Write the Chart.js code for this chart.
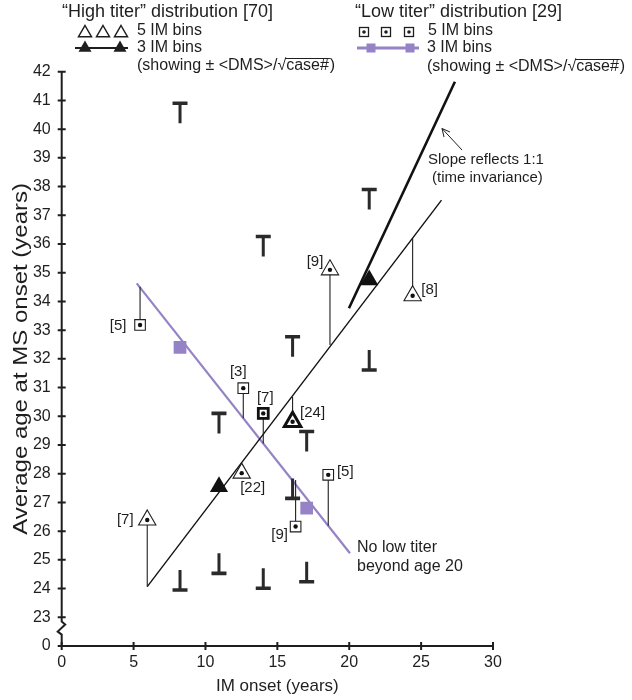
<!DOCTYPE html>
<html>
<head>
<meta charset="utf-8">
<script src="https://cdn.jsdelivr.net/npm/chart.js@4.4.1/dist/chart.umd.min.js"></script>
<style>
  html, body { margin: 0; padding: 0; background: #fff; }
  #wrap { width: 632px; height: 700px; }
</style>
</head>
<body>
<div id="wrap"><canvas id="c" width="632" height="700"></canvas></div>
<script>
// ---- data ----
// High titer, 5 IM bins (open triangles)
const hi5X = [5.95, 12.52, 16.06, 18.66, 24.41];
const hi5Y = [26.39, 28.02, 29.81, 35.10, 34.20];
const hi5N = ['[7]', '[22]', '[24]', '[9]', '[8]'];
const hi5Stem = [24.07, 28.30, 30.68, 32.48, 36.20]; // where the thin line is met

// High titer, 3 IM bins (filled triangles, middle one coincides with [24])
const hi3X = [10.94, 16.06, 21.39];
const hi3Y = [27.55, 29.81, 34.75];
const hi3Top = [30.10, 32.77, 37.90];
const hi3Bot = [24.53, 27.14, 31.61];

// Low titer, 5 IM bins (open squares)
const lo5X = [5.45, 12.63, 14.02, 16.27, 18.54];
const lo5Y = [33.18, 30.98, 30.10, 26.16, 27.96];
const lo5N = ['[5]', '[3]', '[7]', '[9]', '[5]'];
const lo5Stem = [34.51, 29.93, 29.05, 27.78, 26.19];

// Low titer, 3 IM bins (purple squares, middle one coincides with [7])
const lo3X = [8.23, 14.02, 17.04];
const lo3Y = [32.40, 30.10, 26.80];
const lo3Top = [40.90, 36.26, 29.47];
const lo3Bot = [23.95, 24.01, 24.24];

// fitted lines
const hiFitX = [5.95, 26.42],  hiFitY = [24.07, 37.53];
const slopeX = [19.98, 27.35], slopeY = [33.76, 41.65];
const loFitX = [5.22, 20.05],  loFitY = [34.63, 25.23];

// axes
const xTicks = [0, 5, 10, 15, 20, 25, 30];
const yTicks = [22, 23, 24, 25, 26, 27, 28, 29, 30, 31, 32, 33, 34, 35, 36, 37, 38, 39, 40, 41, 42];
const yBreakValue = 22; // drawn as "0" under the axis break

// label offsets (px) from each marker
const hi5LabOff = [[-22, 0], [11, 15], [20, -9], [-15, -8], [17, -6]];
const lo5LabOff = [[-22, 1], [-5, -16], [2, -16], [-16, 8], [17, -3]];

const FONT = '"Liberation Sans", Arial, sans-serif';
const INK = '#1e1e1e';
const PURPLE = '#9583c6';

const pts = (xs, ys) => xs.map((x, i) => ({ x: x, y: ys[i] }));
function stems(xs, ys, ends) {
    const out = [];
    xs.forEach((x, i) => {
        out.push({ x: x, y: ys[i] }, { x: x, y: ends[i] }, { x: x, y: null });
    });
    return out;
}

// ---- plugin: axes with break, error-bar ends, labels, legend ----
function triangle(ctx, x, y, r, fill, stroke, lw) {
    ctx.beginPath();
    ctx.moveTo(x, y - r);
    ctx.lineTo(x + 0.866 * r, y + 0.5 * r);
    ctx.lineTo(x - 0.866 * r, y + 0.5 * r);
    ctx.closePath();
    if (fill) { ctx.fillStyle = fill; ctx.fill(); }
    if (stroke) { ctx.strokeStyle = stroke; ctx.lineWidth = lw; ctx.stroke(); }
}

const figPlugin = {
    id: 'fig',
    beforeDatasetsDraw(chart) {
        const ctx = chart.ctx, xs = chart.scales.x, ys = chart.scales.y;
        const x0 = xs.getPixelForValue(0), y0 = ys.getPixelForValue(yBreakValue);
        ctx.save();
        ctx.strokeStyle = INK;
        ctx.lineWidth = 2;
        // x axis
        ctx.beginPath();
        ctx.moveTo(x0, y0);
        ctx.lineTo(xs.getPixelForValue(30), y0);
        xTicks.forEach(v => {
            const p = xs.getPixelForValue(v);
            ctx.moveTo(p, y0 - 4);
            ctx.lineTo(p, y0 + 4);
        });
        ctx.stroke();
        // y axis with break
        const yb = ys.getPixelForValue(22.85);
        ctx.beginPath();
        ctx.moveTo(x0, ys.getPixelForValue(42));
        ctx.lineTo(x0, yb);
        ctx.lineTo(x0 + 3.5, yb + 3);
        ctx.lineTo(x0 - 4, yb + 10);
        ctx.lineTo(x0, yb + 13);
        ctx.lineTo(x0, y0);
        yTicks.forEach(v => {
            const p = ys.getPixelForValue(v);
            ctx.moveTo(x0 - 4, p);
            ctx.lineTo(x0 + 4, p);
        });
        ctx.stroke();
        ctx.restore();
    },
    afterDatasetsDraw(chart) {
        const ctx = chart.ctx, xs = chart.scales.x, ys = chart.scales.y;
        ctx.save();
        // error-bar ends of the 3-bin means
        ctx.strokeStyle = '#2a2a2a';
        const caps = (X, top, bot) => X.forEach((x, i) => {
            const px = xs.getPixelForValue(x);
            const pt = ys.getPixelForValue(top[i]), pb = ys.getPixelForValue(bot[i]);
            ctx.lineWidth = 3.6;
            ctx.beginPath();
            ctx.moveTo(px - 7.5, pt); ctx.lineTo(px + 7.5, pt);
            ctx.moveTo(px - 7.5, pb); ctx.lineTo(px + 7.5, pb);
            ctx.stroke();
            ctx.lineWidth = 3;
            ctx.beginPath();
            ctx.moveTo(px, pt); ctx.lineTo(px, pt + 20);
            ctx.moveTo(px, pb); ctx.lineTo(px, pb - 20);
            ctx.stroke();
        });
        caps(hi3X, hi3Top, hi3Bot);
        caps(lo3X, lo3Top, lo3Bot);

        // bin counts
        ctx.fillStyle = INK;
        ctx.font = '15px ' + FONT;
        ctx.textAlign = 'center';
        ctx.textBaseline = 'middle';
        hi5X.forEach((x, i) => ctx.fillText(hi5N[i],
            xs.getPixelForValue(x) + hi5LabOff[i][0], ys.getPixelForValue(hi5Y[i]) + hi5LabOff[i][1]));
        lo5X.forEach((x, i) => ctx.fillText(lo5N[i],
            xs.getPixelForValue(x) + lo5LabOff[i][0], ys.getPixelForValue(lo5Y[i]) + lo5LabOff[i][1]));

        // notes
        ctx.textAlign = 'left';
        ctx.font = '15px ' + FONT;
        ctx.fillText('Slope reflects 1:1', 428, 160);
        ctx.fillText('(time invariance)', 432, 178);
        ctx.font = '16px ' + FONT;
        ctx.fillText('No low titer', 357, 548);
        ctx.fillText('beyond age 20', 357, 567);
        // arrow to the 1:1 line
        ctx.strokeStyle = INK;
        ctx.lineWidth = 1;
        ctx.beginPath();
        ctx.moveTo(462, 150); ctx.lineTo(442, 128.5);
        ctx.moveTo(442, 128.5); ctx.lineTo(444, 137);
        ctx.moveTo(442, 128.5); ctx.lineTo(450, 132);
        ctx.stroke();
        ctx.restore();
    },
    afterDraw(chart) {
        const ctx = chart.ctx, area = chart.chartArea;
        ctx.save();
        ctx.fillStyle = INK;
        ctx.textBaseline = 'middle';

        // y axis title (a bit drawn out along its length, as in the figure)
        ctx.save();
        ctx.translate(21, (area.top + area.bottom) / 2);
        ctx.rotate(-Math.PI / 2);
        ctx.scale(1.2, 1);
        ctx.textAlign = 'center';
        ctx.font = '20px ' + FONT;
        ctx.fillText('Average age at MS onset (years)', 0, 0);
        ctx.restore();

        ctx.textAlign = 'left';
        const sqrtNote = (x, y) => {
            ctx.fillStyle = INK;
            ctx.font = '16px ' + FONT;
            const a = '(showing \u00b1 <DMS>/', r = '\u221a', b = 'case#';
            ctx.fillText(a, x, y);
            const wa = ctx.measureText(a).width, wr = ctx.measureText(r).width, wb = ctx.measureText(b).width;
            ctx.fillText(r, x + wa, y);
            ctx.fillText(b, x + wa + wr, y);
            ctx.fillText(')', x + wa + wr + wb + 1, y);
            ctx.strokeStyle = INK;
            ctx.lineWidth = 1;
            ctx.beginPath();
            ctx.moveTo(x + wa + wr - 1, y - 7.5);
            ctx.lineTo(x + wa + wr + wb + 1, y - 7.5);
            ctx.stroke();
        };

        // high titer block
        ctx.font = '18px ' + FONT;
        ctx.fillText('\u201cHigh titer\u201d distribution [70]', 62, 12);
        [85, 103, 121].forEach(x => triangle(ctx, x, 33, 7.5, '#fff', INK, 1.5));
        ctx.fillStyle = INK;
        ctx.font = '16px ' + FONT;
        ctx.fillText('5 IM bins', 137, 31);
        ctx.strokeStyle = INK; ctx.lineWidth = 2.2;
        ctx.beginPath(); ctx.moveTo(75, 48); ctx.lineTo(128, 48); ctx.stroke();
        [85, 120].forEach(x => triangle(ctx, x, 48, 7.5, INK, null, 0));
        ctx.fillStyle = INK;
        ctx.fillText('3 IM bins', 137, 48);
        sqrtNote(137, 66);

        // low titer block
        ctx.fillStyle = INK;
        ctx.font = '18px ' + FONT;
        ctx.fillText('\u201cLow titer\u201d distribution [29]', 355, 12);
        [364, 386, 409].forEach(x => {
            ctx.fillStyle = '#fff'; ctx.fillRect(x - 4.5, 27.5, 9, 9);
            ctx.strokeStyle = INK; ctx.lineWidth = 1.3; ctx.strokeRect(x - 4.5, 27.5, 9, 9);
            ctx.fillStyle = INK; ctx.beginPath(); ctx.arc(x, 32, 1.8, 0, Math.PI * 2); ctx.fill();
        });
        ctx.font = '16px ' + FONT;
        ctx.fillText('5 IM bins', 428, 31);
        ctx.strokeStyle = PURPLE; ctx.lineWidth = 3;
        ctx.beginPath(); ctx.moveTo(357, 48); ctx.lineTo(419, 48); ctx.stroke();
        ctx.fillStyle = PURPLE;
        [371, 410].forEach(x => ctx.fillRect(x - 4.5, 43.5, 9, 9));
        ctx.fillStyle = INK;
        ctx.fillText('3 IM bins', 427, 48);
        sqrtNote(427, 67);
        ctx.restore();
    }
};

// ---- datasets ----
const lineDs = (xs, ys, color, w) => ({
    type: 'scatter', data: pts(xs, ys), showLine: true, borderColor: color, borderWidth: w,
    pointRadius: 0, fill: false, tension: 0, order: 5
});

const datasets = [
    // dots inside the 5-bin markers
    { data: pts(hi5X, hi5Y).concat(pts(lo5X, lo5Y)), pointStyle: 'circle', pointRadius: 2.2,
      backgroundColor: '#111', borderWidth: 0, order: 0 },
    // 3-bin means
    { data: pts(hi3X, hi3Y), pointStyle: 'triangle', pointRadius: [10.5, 9.5, 10.5],
      backgroundColor: ['#111', '#fff', '#111'], borderColor: '#111', borderWidth: [0, 3, 0], order: 1 },
    { data: pts(lo3X, lo3Y), pointStyle: 'rect', pointRadius: [9, 7, 9],
      backgroundColor: [PURPLE, '#fff', PURPLE], borderColor: [PURPLE, '#111', PURPLE],
      borderWidth: [0, 2.8, 0], order: 1 },
    // 5-bin markers
    { data: pts(hi5X, hi5Y), pointStyle: 'triangle', pointRadius: 10,
      backgroundColor: '#fff', borderColor: INK, borderWidth: 1.1, order: 2 },
    { data: pts(lo5X, lo5Y), pointStyle: 'rect', pointRadius: 7.5,
      backgroundColor: '#fff', borderColor: INK, borderWidth: 1.1, order: 2 },
    // stems from the 5-bin markers to the 3-bin fit lines
    { type: 'scatter', data: stems(hi5X, hi5Y, hi5Stem), showLine: true, spanGaps: false,
      borderColor: INK, borderWidth: 1.1, pointRadius: 0, order: 3 },
    { type: 'scatter', data: stems(lo5X, lo5Y, lo5Stem), showLine: true, spanGaps: false,
      borderColor: INK, borderWidth: 1.1, pointRadius: 0, order: 3 },
    // fit lines
    lineDs(hiFitX, hiFitY, '#111', 1.4),
    lineDs(slopeX, slopeY, '#111', 2.6),
    lineDs(loFitX, loFitY, PURPLE, 2.2)
];

new Chart(document.getElementById('c'), {
    type: 'scatter',
    data: { datasets: datasets },
    options: {
        responsive: false,
        animation: false,
        events: [],
        layout: { padding: { left: 0, right: 139, top: 71.7, bottom: 0 } },
        plugins: { legend: { display: false }, tooltip: { enabled: false } },
        scales: {
            x: {
                type: 'linear', min: 0, max: 30,
                afterBuildTicks: s => { s.ticks = xTicks.map(v => ({ value: v })); },
                ticks: { font: { family: FONT, size: 16 }, color: INK, padding: 7 },
                grid: { display: false, drawTicks: false },
                border: { display: false },
                title: { display: true, text: 'IM onset (years)', color: INK,
                         font: { family: FONT, size: 17 }, padding: { top: 0, bottom: 3 } },
                afterFit: s => { s.height = 54; }
            },
            y: {
                type: 'linear', min: 22, max: 42,
                afterBuildTicks: s => { s.ticks = yTicks.map(v => ({ value: v })); },
                ticks: { font: { family: FONT, size: 16 }, color: INK, padding: 11,
                         callback: v => v === yBreakValue ? '0' : String(v) },
                grid: { display: false, drawTicks: false },
                border: { display: false },
                afterFit: s => { s.width = 61.7; }
            }
        }
    },
    plugins: [figPlugin]
});
</script>
</body>
</html>
